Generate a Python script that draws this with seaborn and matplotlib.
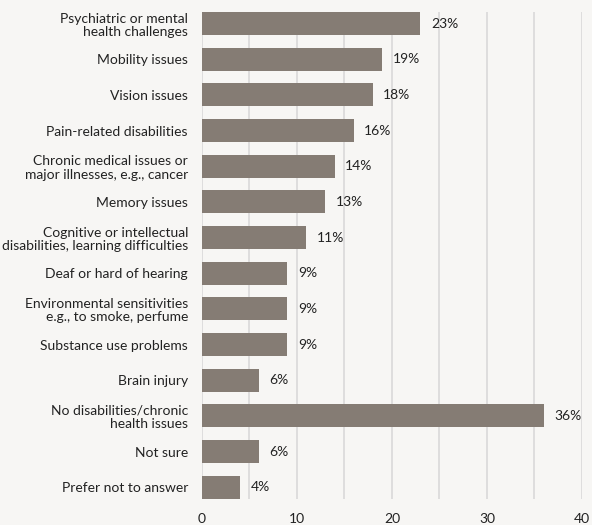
import matplotlib
matplotlib.use("Agg")
import matplotlib.pyplot as plt
import seaborn as sns
import pandas as pd

categories = [
    "Psychiatric or mental\nhealth challenges",
    "Mobility issues",
    "Vision issues",
    "Pain-related disabilities",
    "Chronic medical issues or\nmajor illnesses, e.g., cancer",
    "Memory issues",
    "Cognitive or intellectual\ndisabilities, learning difficulties",
    "Deaf or hard of hearing",
    "Environmental sensitivities\ne.g., to smoke, perfume",
    "Substance use problems",
    "Brain injury",
    "No disabilities/chronic\nhealth issues",
    "Not sure",
    "Prefer not to answer",
]
values = [23, 19, 18, 16, 14, 13, 11, 9, 9, 9, 6, 36, 6, 4]
x_ticks = [0, 10, 20, 30, 40]

bg = "#f7f6f4"
bar_color = "#857c74"
text_color = "#222222"
bar_w = 0.645

sns.set_theme(style="white")
plt.rcParams["font.family"] = ["Lato", "DejaVu Sans"]

df = pd.DataFrame({"category": categories, "value": values})

fig = plt.figure(figsize=(5.92, 5.25), dpi=100, facecolor=bg)
ax = fig.add_axes([0.341, 0.050, 0.642, 0.927])
ax.set_facecolor(bg)

sns.barplot(data=df, x="value", y="category", orient="h", color=bar_color,
            saturation=1, width=bar_w, linewidth=0, ax=ax, zorder=3)

ax.set_xlim(0, 40)
ax.set_ylim(len(categories) - 1 + bar_w / 2, -bar_w / 2)
ax.set_xticks(x_ticks)
ax.set_xticks(range(5, 40, 10), minor=True)
ax.xaxis.grid(True, which="both", color="#d9d9d9", linewidth=1.2, zorder=0)
ax.set_axisbelow(True)
ax.tick_params(axis="x", which="both", length=0, pad=10, labelsize=10, labelcolor=text_color)
ax.tick_params(axis="y", length=0, pad=10, labelsize=10, labelcolor=text_color)
for lbl in ax.get_yticklabels():
    lbl.set_horizontalalignment("right")
    lbl.set_multialignment("right")
    lbl.set_linespacing(1.15)

for s in ax.spines.values():
    s.set_visible(False)
ax.set_xlabel("")
ax.set_ylabel("")

for i, v in enumerate(values):
    ax.text(v + 1.1, i, f"{v}%", va="center", ha="left", fontsize=10, color=text_color, zorder=4)

fig.savefig("out.png", dpi=100, facecolor=bg)
